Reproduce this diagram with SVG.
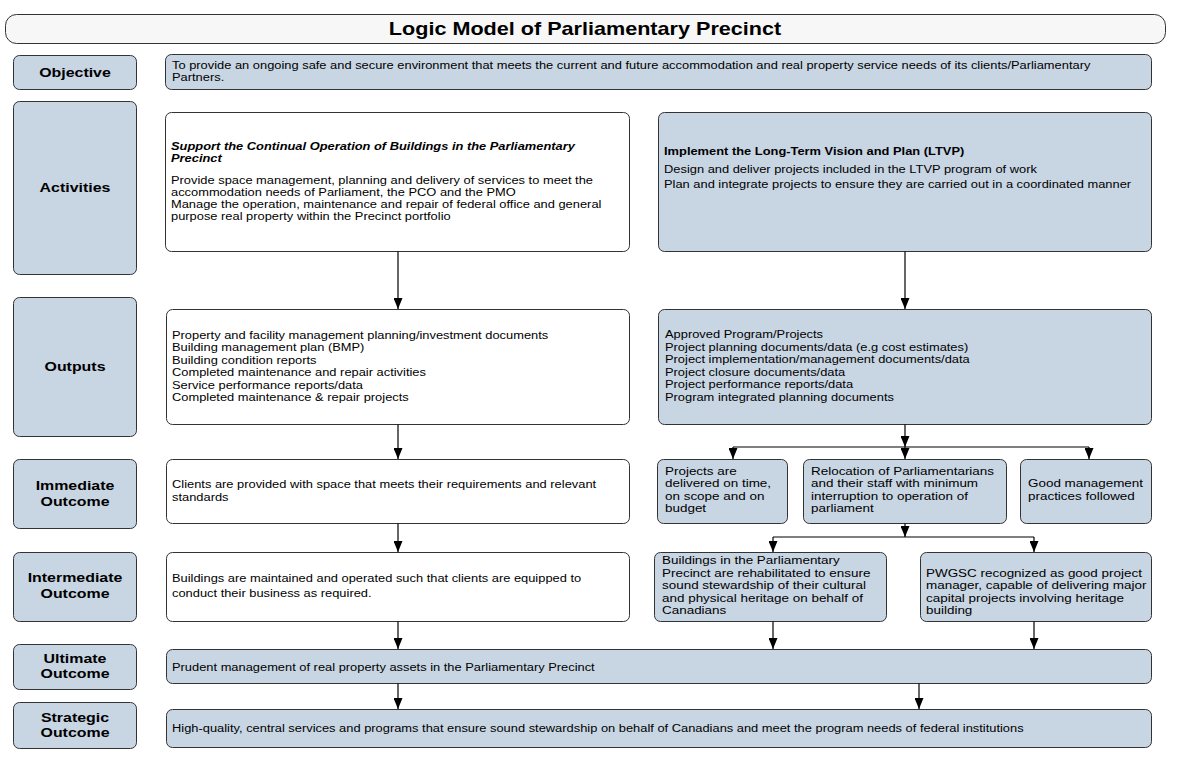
<svg xmlns="http://www.w3.org/2000/svg" width="1179" height="767" viewBox="0 0 1179 767">
<defs>
<style>
.bx{stroke:#333;stroke-width:1}
.blue{fill:#c8d5e3}
.white{fill:#fff}
.t{font-family:"Liberation Sans",Arial,Helvetica,sans-serif;font-size:11px;fill:#000}
.tb{font-size:11.5px}
.lb{font-family:"Liberation Sans",Arial,Helvetica,sans-serif;font-size:13.5px;font-weight:bold;text-anchor:middle;fill:#000}
.ttl{font-family:"Liberation Sans",Arial,Helvetica,sans-serif;font-size:18px;font-weight:bold;text-anchor:middle;fill:#000}
.ln{fill:none;stroke:#000;stroke-width:1.2}
</style>
<marker id="ah" markerUnits="userSpaceOnUse" markerWidth="11" markerHeight="9" viewBox="0 0 11 9" refX="11" refY="4.5" orient="auto">
<path d="M0,0 L11,4.5 L0,9 z" fill="#000"/>
</marker>
</defs>
<rect width="1179" height="767" fill="#fff"/>

<g id="title">
<rect class="bx" x="5.5" y="14.5" width="1160" height="29" rx="11" fill="#f7f7f7"/>
<text class="ttl" transform="translate(585 0) scale(1.2 1)" x="0" y="35">Logic Model of Parliamentary Precinct</text>
</g>

<g id="label-objective">
<rect class="bx blue" x="13.5" y="55.5" width="123" height="34" rx="6"/>
<text class="lb" transform="translate(75 0) scale(1.18 1)" x="0" y="77">Objective</text>
</g>
<g id="label-activities">
<rect class="bx blue" x="13.5" y="101.5" width="123" height="173" rx="6"/>
<text class="lb" transform="translate(75 0) scale(1.18 1)" x="0" y="192">Activities</text>
</g>
<g id="label-outputs">
<rect class="bx blue" x="13.5" y="297.5" width="123" height="139" rx="6"/>
<text class="lb" transform="translate(75 0) scale(1.18 1)" x="0" y="371">Outputs</text>
</g>
<g id="label-immediate">
<rect class="bx blue" x="13.5" y="459.5" width="123" height="69" rx="6"/>
<text class="lb" transform="translate(75 0) scale(1.18 1)"><tspan x="0" y="490">Immediate</tspan><tspan x="0" y="506">Outcome</tspan></text>
</g>
<g id="label-intermediate">
<rect class="bx blue" x="13.5" y="552.5" width="123" height="69" rx="6"/>
<text class="lb" transform="translate(75 0) scale(1.18 1)"><tspan x="0" y="582">Intermediate</tspan><tspan x="0" y="598">Outcome</tspan></text>
</g>
<g id="label-ultimate">
<rect class="bx blue" x="13.5" y="644.5" width="123" height="45" rx="6"/>
<text class="lb" transform="translate(75 0) scale(1.18 1)"><tspan x="0" y="663">Ultimate</tspan><tspan x="0" y="678">Outcome</tspan></text>
</g>
<g id="label-strategic">
<rect class="bx blue" x="13.5" y="702.5" width="123" height="46" rx="6"/>
<text class="lb" transform="translate(75 0) scale(1.18 1)"><tspan x="0" y="722">Strategic</tspan><tspan x="0" y="737">Outcome</tspan></text>
</g>

<g id="objective">
<rect class="bx blue" x="165.5" y="54.5" width="986" height="35" rx="6"/>
<text class="t" transform="translate(172 0) scale(1.17 1)"><tspan x="0" y="69">To provide an ongoing safe and secure environment that meets the current and future accommodation and real property service needs of its clients/Parliamentary</tspan><tspan x="0" y="81">Partners.</tspan></text>
</g>

<g id="activity-operation">
<rect class="bx white" x="165.5" y="112.5" width="464" height="139" rx="6"/>
<text class="t" transform="translate(171 0) scale(1.17 1)"><tspan x="0" y="150" font-weight="bold" font-style="italic">Support the Continual Operation of Buildings in the Parliamentary</tspan><tspan x="0" y="162" font-weight="bold" font-style="italic">Precinct</tspan><tspan x="0" y="184">Provide space management, planning and delivery of services to meet the</tspan><tspan x="0" y="196">accommodation needs of Parliament, the PCO and the PMO</tspan><tspan x="0" y="208">Manage the operation, maintenance and repair of federal office and general</tspan><tspan x="0" y="220">purpose real property within the Precinct portfolio</tspan></text>
</g>

<g id="activity-ltvp">
<rect class="bx blue" x="658.5" y="112.5" width="493" height="139" rx="6"/>
<text class="t" transform="translate(664 0) scale(1.17 1)"><tspan x="0" y="155" font-weight="bold">Implement the Long-Term Vision and Plan (LTVP)</tspan><tspan x="0" y="173">Design and deliver projects included in the LTVP program of work</tspan><tspan x="0" y="188">Plan and integrate projects to ensure they are carried out in a coordinated manner</tspan></text>
</g>

<g id="outputs-operation">
<rect class="bx white" x="166.5" y="309.5" width="463" height="115" rx="6"/>
<text class="t" transform="translate(172 0) scale(1.17 1)"><tspan x="0" y="339">Property and facility management planning/investment documents</tspan><tspan x="0" y="351.5">Building management plan (BMP)</tspan><tspan x="0" y="364">Building condition reports</tspan><tspan x="0" y="376.5">Completed maintenance and repair activities</tspan><tspan x="0" y="389">Service performance reports/data</tspan><tspan x="0" y="401">Completed maintenance &amp; repair projects</tspan></text>
</g>

<g id="outputs-ltvp">
<rect class="bx blue" x="658.5" y="309.5" width="493" height="115" rx="6"/>
<text class="t" transform="translate(665 0) scale(1.17 1)"><tspan x="0" y="338.5">Approved Program/Projects</tspan><tspan x="0" y="351">Project planning documents/data (e.g cost estimates)</tspan><tspan x="0" y="363.5">Project implementation/management documents/data</tspan><tspan x="0" y="376">Project closure documents/data</tspan><tspan x="0" y="388.5">Project performance reports/data</tspan><tspan x="0" y="401">Program integrated planning documents</tspan></text>
</g>

<g id="immediate-clients">
<rect class="bx white" x="166.5" y="459.5" width="463" height="64" rx="6"/>
<text class="t" transform="translate(172 0) scale(1.17 1)"><tspan x="0" y="488">Clients are provided with space that meets their requirements and relevant</tspan><tspan x="0" y="501">standards</tspan></text>
</g>

<g id="immediate-projects">
<rect class="bx blue" x="657.5" y="459.5" width="130" height="64" rx="6"/>
<text class="t tb" transform="translate(665 0) scale(1.17 1)"><tspan x="0" y="475">Projects are</tspan><tspan x="0" y="487.5">delivered on time,</tspan><tspan x="0" y="500">on scope and on</tspan><tspan x="0" y="512.5">budget</tspan></text>
</g>

<g id="immediate-relocation">
<rect class="bx blue" x="803.5" y="459.5" width="203" height="64" rx="6"/>
<text class="t tb" transform="translate(811 0) scale(1.17 1)"><tspan x="0" y="475">Relocation of Parliamentarians</tspan><tspan x="0" y="487.5">and their staff with minimum</tspan><tspan x="0" y="500">interruption to operation of</tspan><tspan x="0" y="512.5">parliament</tspan></text>
</g>

<g id="immediate-management">
<rect class="bx blue" x="1020.5" y="459.5" width="131" height="64" rx="6"/>
<text class="t tb" transform="translate(1028 0) scale(1.17 1)"><tspan x="0" y="487.5">Good management</tspan><tspan x="0" y="500">practices followed</tspan></text>
</g>

<g id="intermediate-buildings">
<rect class="bx white" x="166.5" y="552.5" width="463" height="69" rx="6"/>
<text class="t" transform="translate(172 0) scale(1.17 1)"><tspan x="0" y="582">Buildings are maintained and operated such that clients are equipped to</tspan><tspan x="0" y="597">conduct their business as required.</tspan></text>
</g>

<g id="intermediate-heritage">
<rect class="bx blue" x="654.5" y="552.5" width="232" height="69" rx="6"/>
<text class="t tb" transform="translate(662 0) scale(1.17 1)"><tspan x="0" y="564">Buildings in the Parliamentary</tspan><tspan x="0" y="577">Precinct are rehabilitated to ensure</tspan><tspan x="0" y="589.5">sound stewardship of their cultural</tspan><tspan x="0" y="602">and physical heritage on behalf of</tspan><tspan x="0" y="614.5">Canadians</tspan></text>
</g>

<g id="intermediate-pwgsc">
<rect class="bx blue" x="920.5" y="552.5" width="231" height="69" rx="6"/>
<text class="t tb" transform="translate(926 0) scale(1.17 1)"><tspan x="0" y="577">PWGSC recognized as good project</tspan><tspan x="0" y="589.5">manager, capable of delivering major</tspan><tspan x="0" y="602">capital projects involving heritage</tspan><tspan x="0" y="614.5">building</tspan></text>
</g>

<g id="ultimate">
<rect class="bx blue" x="166.5" y="649.5" width="985" height="34" rx="6"/>
<text class="t" transform="translate(172 0) scale(1.17 1)" x="0" y="671">Prudent management of real property assets in the Parliamentary Precinct</text>
</g>

<g id="strategic">
<rect class="bx blue" x="166.5" y="709.5" width="985" height="38" rx="6"/>
<text class="t" transform="translate(172 0) scale(1.17 1)" x="0" y="732">High-quality, central services and programs that ensure sound stewardship on behalf of Canadians and meet the program needs of federal institutions</text>
</g>

<g id="connectors">
<path class="ln" d="M398 251.5 V309" marker-end="url(#ah)"/>
<path class="ln" d="M905 251.5 V309" marker-end="url(#ah)"/>
<path class="ln" d="M398 424.5 V459" marker-end="url(#ah)"/>
<path class="ln" d="M905 424.5 V447" marker-end="url(#ah)"/>
<path class="ln" d="M733 447 H1089"/>
<path class="ln" d="M733 447 V459" marker-end="url(#ah)"/>
<path class="ln" d="M905 447 V459" marker-end="url(#ah)"/>
<path class="ln" d="M1089 447 V459" marker-end="url(#ah)"/>
<path class="ln" d="M905 523.5 V537" marker-end="url(#ah)"/>
<path class="ln" d="M773 537 H1034"/>
<path class="ln" d="M773 537 V552" marker-end="url(#ah)"/>
<path class="ln" d="M1034 537 V552" marker-end="url(#ah)"/>
<path class="ln" d="M398 523.5 V552" marker-end="url(#ah)"/>
<path class="ln" d="M398 621.5 V649" marker-end="url(#ah)"/>
<path class="ln" d="M773 621.5 V649" marker-end="url(#ah)"/>
<path class="ln" d="M1034 621.5 V649" marker-end="url(#ah)"/>
<path class="ln" d="M398 683.5 V709" marker-end="url(#ah)"/>
<path class="ln" d="M919 683.5 V709" marker-end="url(#ah)"/>
</g>
</svg>
